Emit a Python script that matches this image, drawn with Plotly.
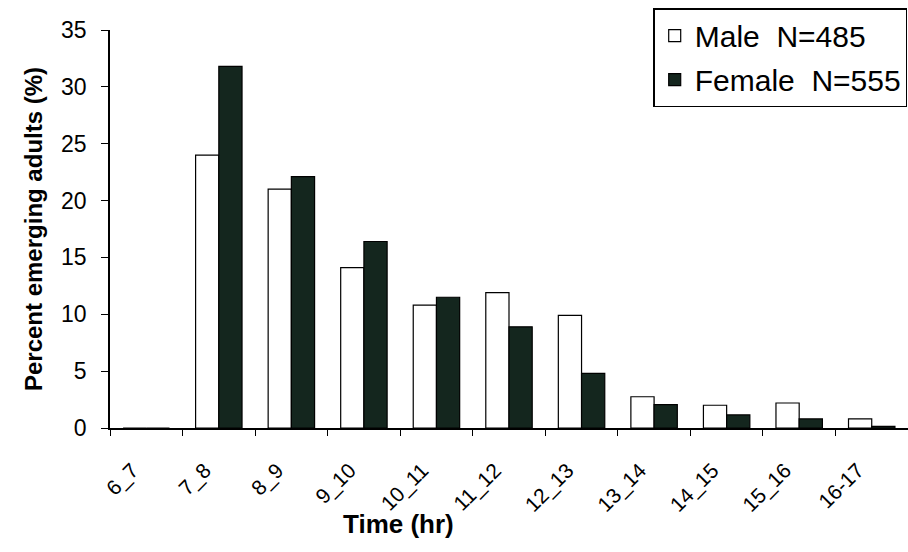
import plotly.graph_objects as go

categories = ["6_7", "7_8", "8_9", "9_10", "10_11", "11_12", "12_13", "13_14", "14_15", "15_16", "16-17"]
male = [0, 24.0, 21.0, 14.1, 10.8, 11.9, 9.9, 2.75, 2.0, 2.2, 0.8]
female = [0, 31.8, 22.1, 16.4, 11.5, 8.9, 4.8, 2.05, 1.15, 0.8, 0.15]
male_name = "Male  N=485"
female_name = "Female  N=555"

fig = go.Figure()
fig.add_trace(go.Bar(x=categories, y=male, name=male_name, legendgroup="m",
                     marker=dict(color="white", line=dict(color="black", width=1.2))))
fig.add_trace(go.Bar(x=categories, y=female, name=female_name, legendgroup="f",
                     marker=dict(color="#14261e", line=dict(color="black", width=1.2))))

font_family = "Liberation Sans, Arial, sans-serif"
fig.update_layout(
    width=908, height=552,
    margin=dict(l=110, r=0, t=30, b=124),
    paper_bgcolor="white", plot_bgcolor="white",
    barmode="group", bargap=0.36, bargroupgap=0,
    font=dict(family=font_family, color="black"),
    showlegend=True,
    legend=dict(x=0.999, xanchor="right", y=1.055, yanchor="top",
                bordercolor="black", borderwidth=1.5, bgcolor="white",
                font=dict(size=30, family=font_family), tracegroupgap=2,
                itemwidth=30),
)
fig.update_xaxes(type="category", showline=True, linecolor="black", linewidth=1.5,
                 ticks="outside", tickson="boundaries", ticklen=6, tickcolor="black",
                 tickangle=-45, tickfont=dict(size=21), showgrid=False,
                 ticklabelshift=-14, ticklabelstandoff=20)
fig.update_yaxes(range=[0, 35], dtick=5, showline=True, linecolor="black", linewidth=1.5,
                 ticks="outside", ticklen=7, tickcolor="black", tickfont=dict(size=23),
                 ticklabelstandoff=10,
                 showgrid=False, zeroline=False,
                 title=dict(text="<b>Percent emerging adults (%)</b>", font=dict(size=24), standoff=12))
fig.add_annotation(text="<b>Time (hr)</b>", xref="paper", yref="paper", x=0.362, y=-0.24,
                   xanchor="center", yanchor="middle", showarrow=False, font=dict(size=26))

fig.write_html("out.html")
